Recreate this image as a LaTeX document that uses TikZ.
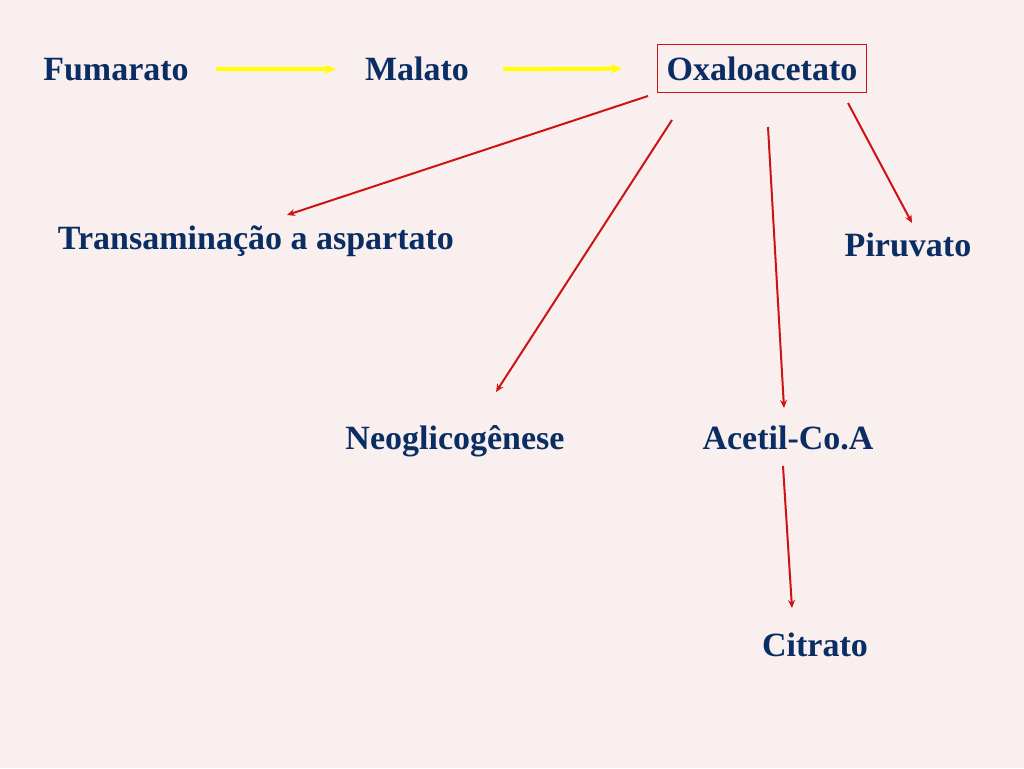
\documentclass[tikz,border=0pt]{standalone}
\usepackage{fontspec}
\setmainfont{Liberation Serif}
\usetikzlibrary{arrows.meta,calc}
\definecolor{bgcolor}{RGB}{249,239,239}
\definecolor{textcolor}{RGB}{10,46,100}
\definecolor{redline}{RGB}{205,20,20}
\definecolor{yellowline}{RGB}{255,255,0}
\begin{document}
\begin{tikzpicture}[
    x=1pt, y=-1pt,
    label/.style={font=\fontsize{34}{40}\selectfont\bfseries, text=textcolor, inner sep=0pt, anchor=base},
    boxed/.style={font=\fontsize{34}{40}\selectfont\bfseries, text=textcolor, draw=redline, line width=1pt, inner xsep=9pt, minimum height=47pt},
    yarrow/.style={-{Stealth[length=11pt,width=9pt]}, yellowline, line width=4pt},
    rarrow/.style={-{Stealth[length=8pt,width=7pt]}, redline, line width=2pt}
]
\useasboundingbox[fill=bgcolor] (0,0) rectangle (1024,768);

% Top row
\node[label] (fumarato) at (116,81) {Fumarato};
\node[label] (malato) at (417,81) {Malato};
\node[boxed] (oxaloacetato) at (762,68.5) {Oxaloacetato};

% Products
\node[label] (transaminacao) at (256,249) {Transaminação a aspartato};
\node[label] (piruvato) at (908,256) {Piruvato};
\node[label] (neoglicogenese) at (455,449) {Neoglicogênese};
\node[label] (acetilcoa) at (788,449) {Acetil-Co.A};
\node[label] (citrato) at (815,656) {Citrato};

% Free ends of the red arrows
\coordinate (oxa_t) at (648,96);
\coordinate (oxa_n) at (672,120);
\coordinate (oxa_a) at (768,127);
\coordinate (oxa_p) at (848,103);
\coordinate (tra_end) at (287,215);
\coordinate (neo_end) at (496,392);
\coordinate (ace_end) at (784,408);
\coordinate (pir_end) at (912,223);
\coordinate (ace_start) at (783,466);
\coordinate (cit_end) at (792,608);

% Yellow arrows
\draw[yarrow, shorten <=27pt, shorten >=29pt] (fumarato.east |- malato.center) -- (malato.west |- malato.center);
\draw[yarrow, shorten <=34pt, shorten >=35pt] (malato.east |- malato.center) -- (oxaloacetato.west);

% Red arrows
\draw[rarrow] (oxa_t) -- (tra_end);
\draw[rarrow] (oxa_n) -- (neo_end);
\draw[rarrow] (oxa_a) -- (ace_end);
\draw[rarrow] (oxa_p) -- (pir_end);
\draw[rarrow] (ace_start) -- (cit_end);

\end{tikzpicture}
\end{document}
